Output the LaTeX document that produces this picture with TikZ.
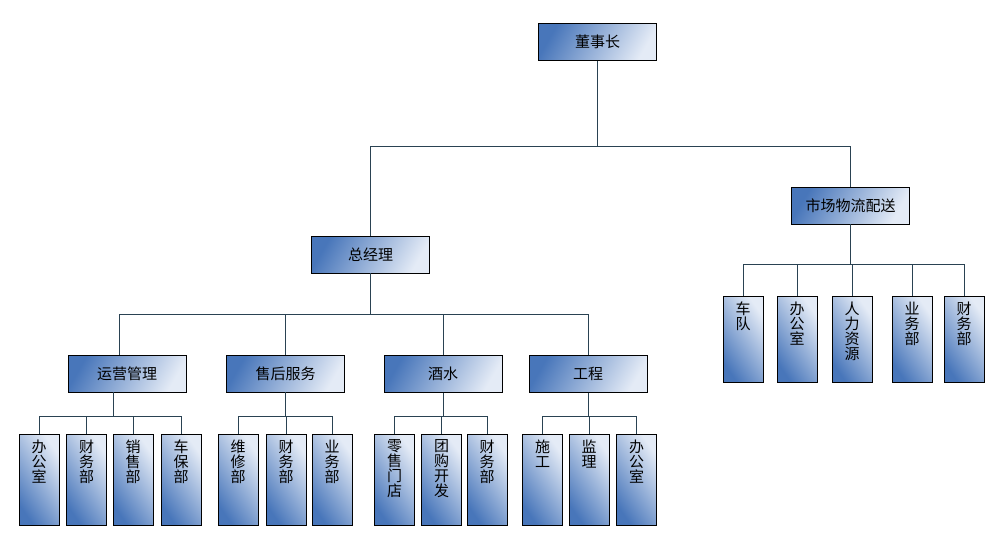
\documentclass[tikz,border=0pt]{standalone}
\usepackage{fontspec}
\usepackage{xcolor}
\usepackage{tikz}
\usetikzlibrary{
  positioning,
  calc
}
\newfontfamily\cjk{Noto Sans CJK SC}
\definecolor{boxdark}{RGB}{72,118,186}
\definecolor{boxlight}{RGB}{228,235,246}
\definecolor{linkcol}{RGB}{42,66,82}
% 縦書きの文字列
\newcommand{\tate}[2][80pt]{\parbox[t][#1][t]{16pt}{\centering #2}}

\tikzset{
  wide/.style={draw=black, line width=0.9pt, shading=axis,
    left color=boxdark, right color=boxlight, shading angle=60,
    minimum width=118pt, minimum height=37pt, inner sep=0pt,
    font=\cjk\fontsize{15pt}{15.5pt}\selectfont},
  tall/.style={draw=black, line width=0.9pt, shading=axis,
    left color=boxdark, right color=boxlight, shading angle=125,
    minimum width=40pt, inner xsep=0pt, inner ysep=5.5pt, anchor=north,
    font=\cjk\fontsize{15pt}{15pt}\selectfont},
  link/.style={draw=linkcol, line width=0.9pt}
}

\begin{document}
\begin{tikzpicture}[x=1pt, y=-1pt]
  \useasboundingbox (0,0) rectangle (997,541);

  % 上の二段
  \node[wide] (dsz) at (597.5,42) {董事长};
  \node[wide] (zjl) at (370.5,254.5) {总经理};
  \node[wide] (sc) at (850.5,205.5) {市场物流配送};

  % 総経理の下の部門
  \node[wide] (yy) at (127,373.5) {运营管理};
  \node[wide] (sh) at (285.5,373.5) {售后服务};
  \node[wide] (js) at (443,374) {酒水};
  \node[wide] (gc) at (588,374) {工程};

  % 各部門の下の課
  \node[tall] (yy1) at (39,434) {\tate{办\\公\\室}};
  \node[tall] (yy2) at (86.5,434) {\tate{财\\务\\部}};
  \node[tall] (yy3) at (133,434) {\tate{销\\售\\部}};
  \node[tall] (yy4) at (181,434) {\tate{车\\保\\部}};
  \node[tall] (sh1) at (238,434) {\tate{维\\修\\部}};
  \node[tall] (sh2) at (286,434) {\tate{财\\务\\部}};
  \node[tall] (sh3) at (332,434) {\tate{业\\务\\部}};
  \node[tall] (js1) at (394.5,434) {\tate{零\\售\\门\\店}};
  \node[tall] (js2) at (441.5,434) {\tate{团\\购\\开\\发}};
  \node[tall] (js3) at (487,434) {\tate{财\\务\\部}};
  \node[tall] (gc1) at (542.5,434) {\tate{施\\工}};
  \node[tall] (gc2) at (589,434) {\tate{监\\理}};
  \node[tall] (gc3) at (636.5,434) {\tate{办\\公\\室}};

  % 市場物流配送の下の課
  \node[tall] (sc1) at (743,296) {\tate[75pt]{车\\队}};
  \node[tall] (sc2) at (797,296) {\tate[75pt]{办\\公\\室}};
  \node[tall] (sc3) at (852,296) {\tate[75pt]{人\\力\\资\\源}};
  \node[tall] (sc4) at (912,296) {\tate[75pt]{业\\务\\部}};
  \node[tall] (sc5) at (964,296) {\tate[75pt]{财\\务\\部}};

  % 横線の高さ
  \coordinate (bus0) at (0,146);
  \coordinate (bus1) at (0,314);
  \coordinate (bus2) at (0,416);
  \coordinate (bus3) at (0,264);

  % 接続線
  \foreach \c in {zjl,sc}
    \draw[link] (dsz.south) -- (dsz.south |- bus0) -| (\c.north);
  \draw[link] (zjl.south) -- (zjl.south |- bus1) -| ([xshift=-8pt]yy.north);
  \foreach \c in {sh,js,gc}
    \draw[link] (zjl.south) -- (zjl.south |- bus1) -| (\c.north);
  \foreach \c in {yy1,yy2,yy3,yy4}
    \draw[link] ([xshift=-14pt]yy.south) -- ([xshift=-14pt]yy.south |- bus2) -| (\c.north);
  \foreach \c in {sh1,sh2,sh3}
    \draw[link] (sh.south) -- (sh.south |- bus2) -| (\c.north);
  \foreach \c in {js1,js2,js3}
    \draw[link] (js.south) -- (js.south |- bus2) -| (\c.north);
  \foreach \c in {gc1,gc2,gc3}
    \draw[link] (gc.south) -- (gc.south |- bus2) -| (\c.north);
  \foreach \c in {sc1,sc2,sc3,sc4,sc5}
    \draw[link] (sc.south) -- (sc.south |- bus3) -| (\c.north);
\end{tikzpicture}
\end{document}
